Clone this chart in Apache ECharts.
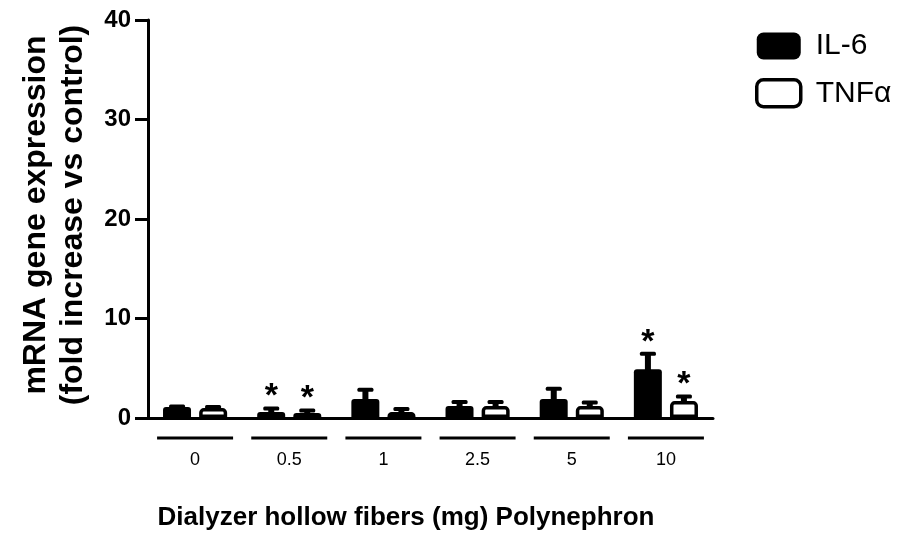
<!DOCTYPE html>
<html>
<head>
<meta charset="utf-8">
<script src="https://cdn.jsdelivr.net/npm/echarts@6/dist/echarts.min.js"></script>
<style>html,body{margin:0;padding:0;background:#fff}#c{width:913px;height:539px}</style>
</head>
<body>
<div id="c"></div>
<script>
const categories = ['0', '0.5', '1', '2.5', '5', '10'];
const il6 = [1.1, 0.6, 1.9, 1.2, 1.9, 4.9];
const il6Err = [0.1, 0.4, 1.0, 0.45, 1.1, 1.6];
const tnf = [1.0, 0.5, 0.6, 1.2, 1.2, 1.7];
const tnfErr = [0.15, 0.3, 0.35, 0.45, 0.4, 0.5];
const il6Star = [0, 1, 0, 0, 0, 1];
const tnfStar = [0, 1, 0, 0, 0, 1];
const yMin = 0, yMax = 40, yStep = 10;

const FONT = 'Liberation Sans, Arial, sans-serif';
const OFF = 18;

function errRender(offset) {
  return function (params, api) {
    const i = api.value(0), v = api.value(1), e = api.value(2);
    const p0 = api.coord([i, v]);
    const p1 = api.coord([i, v + e]);
    const x = p0[0] + offset;
    return {
      type: 'group',
      children: [
        { type: 'rect', shape: { x: x - 3, y: p1[1], width: 6, height: p0[1] - p1[1] + 1 }, style: { fill: '#000' } },
        { type: 'rect', shape: { x: x - 8, y: p1[1] - 1.5, width: 16, height: 4, r: 1.5 }, style: { fill: '#000' } }
      ]
    };
  };
}
function starRender(offset) {
  return function (params, api) {
    const i = api.value(0), v = api.value(1), e = api.value(2), s = api.value(3);
    if (!s) return null;
    const p1 = api.coord([i, v + e]);
    return {
      type: 'text',
      x: p1[0] + offset, y: p1[1] - 11,
      style: { text: '*', font: 'bold 34px ' + FONT, fill: '#000', align: 'center', verticalAlign: 'middle' }
    };
  };
}

const chart = echarts.init(document.getElementById('c'), null, { renderer: 'canvas' });
chart.setOption({
  animation: false,
  backgroundColor: '#fff',
  grid: { left: 148, right: 200, top: 20, bottom: 121 },
  legend: {
    orient: 'vertical', left: 750, top: 26,
    itemWidth: 44, itemHeight: 27, itemGap: 17,
    icon: 'roundRect',
    textStyle: { fontFamily: FONT, fontSize: 30, color: '#000', padding: [0, 0, 0, 10], lineHeight: 29 },
    data: [
      { name: 'IL-6', itemStyle: { color: '#000', borderColor: '#000', borderWidth: 0 } },
      { name: 'TNFα', itemStyle: { color: '#fff', borderColor: '#000', borderWidth: 3.5 } }
    ]
  },
  xAxis: {
    type: 'category', data: categories,
    axisLine: { lineStyle: { color: '#000', width: 3 } },
    axisTick: { show: false },
    axisLabel: { margin: 33, fontFamily: FONT, fontSize: 18, color: '#000' },
    splitLine: { show: false }
  },
  yAxis: {
    type: 'value', min: yMin, max: yMax, interval: yStep,
    axisLine: { show: true, lineStyle: { color: '#000', width: 3 } },
    axisTick: { show: true, length: 13, lineStyle: { color: '#000', width: 3 } },
    axisLabel: { margin: 17, fontFamily: FONT, fontSize: 24, fontWeight: 'bold', color: '#000' },
    splitLine: { show: false }
  },
  graphic: [
    {
      type: 'text', x: 55, y: 215, rotation: Math.PI / 2,
      style: {
        text: 'mRNA gene expression\n(fold increase vs control)',
        font: 'bold 32px ' + FONT, lineHeight: 37, fill: '#000', align: 'center', verticalAlign: 'middle'
      }
    },
    {
      type: 'text', x: 406, y: 518,
      style: { text: 'Dialyzer hollow fibers (mg) Polynephron', font: 'bold 26px ' + FONT, fill: '#000', align: 'center', verticalAlign: 'middle' }
    }
  ],
  series: [
    {
      name: 'IL-6', type: 'bar', data: il6, barWidth: 28, barGap: '29%',
      itemStyle: { color: '#000', borderRadius: [3, 3, 0, 0] }
    },
    {
      name: 'TNFα', type: 'bar', data: tnf, barWidth: 28,
      itemStyle: { color: '#fff', borderColor: '#000', borderWidth: 3.5, borderRadius: [3, 3, 0, 0] }
    },
    {
      type: 'custom', renderItem: errRender(-OFF), z: 3,
      data: categories.map((c, i) => [i, il6[i], il6Err[i]])
    },
    {
      type: 'custom', renderItem: errRender(OFF), z: 3,
      data: categories.map((c, i) => [i, tnf[i], tnfErr[i]])
    },
    {
      type: 'custom', renderItem: starRender(-OFF), z: 4,
      data: categories.map((c, i) => [i, il6[i], il6Err[i], il6Star[i]])
    },
    {
      type: 'custom', renderItem: starRender(OFF), z: 4,
      data: categories.map((c, i) => [i, tnf[i], tnfErr[i], tnfStar[i]])
    },
    {
      type: 'custom', clip: false, z: 4,
      renderItem: function (params, api) {
        const p = api.coord([api.value(0), 0]);
        return { type: 'line', shape: { x1: p[0] - 38, y1: p[1] + 20, x2: p[0] + 38, y2: p[1] + 20 }, style: { stroke: '#000', lineWidth: 3 } };
      },
      data: categories.map((c, i) => [i])
    }
  ]
});
</script>
</body>
</html>
